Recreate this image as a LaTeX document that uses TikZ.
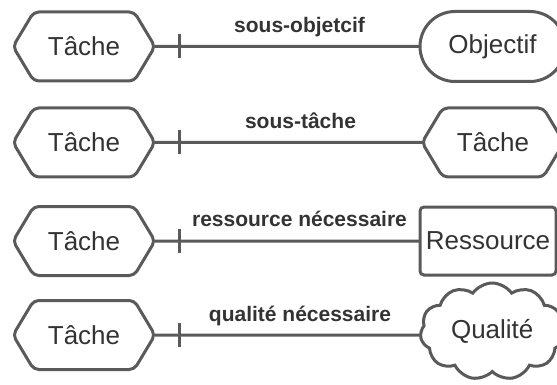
\documentclass[tikz,border=0pt]{standalone}
\usepackage{fontspec}
\setmainfont{Liberation Sans}
\usetikzlibrary{positioning, calc, shapes.symbols, shapes.misc}
\definecolor{trait}{HTML}{5A5A5A}
\definecolor{texte}{HTML}{333333}
\tikzset{
    forme/.style={draw=trait, line width=1.5pt, fill=white, text=texte, inner sep=0pt, outer sep=0pt,
      font=\fontsize{13}{15}\selectfont},
    tache/.style={forme, signal, signal to=east and west, signal pointer angle=118,
      minimum width=71pt, minimum height=34.5pt, rounded corners=2.5pt},
    objectif/.style={forme, rounded rectangle, minimum width=72.5pt, minimum height=35pt},
    ressource/.style={forme, rectangle, rounded corners=2pt, minimum width=68pt, minimum height=34pt},
    qualite/.style={forme, cloud, cloud puffs=11, cloud puff arc=110, aspect=1.5,
      minimum width=72pt, minimum height=48.5pt},
    lien/.style={draw=trait, line width=1.5pt},
    etiq/.style={text=texte, anchor=base, inner sep=0pt, font=\bfseries\fontsize{10.5}{12}\selectfont},
}

\begin{document}
\begin{tikzpicture}[x=0.5pt, y=-0.5pt]
    \useasboundingbox (0,0) rectangle (557,385);
    \clip (0,0) rectangle (557,385);

    \node[tache] (t1) at (84,46.5) {Tâche};
    \node[objectif, right=132.5pt of t1] (o1) {Objectif};
    \coordinate[right=12pt of t1.east] (k1);
    \draw (t1) edge[lien] (o1);
    \draw[lien] ([yshift=6pt]k1) -- ([yshift=-6pt]k1);
    \node[etiq] (e1) at ($(k1)!0.5!(o1.west)+(0,7pt)$) {sous-objetcif};

    \node[tache, below=13.5pt of t1] (t2) {Tâche};
    \node[tache, right=133.5pt of t2] (t2b) {Tâche};
    \coordinate[right=12pt of t2.east] (k2);
    \draw (t2) edge[lien] (t2b);
    \draw[lien] ([yshift=6pt]k2) -- ([yshift=-6pt]k2);
    \node[etiq] (e2) at ($(k2)!0.5!(t2b.west)+(0,7pt)$) {sous-tâche};

    \node[tache, below=14.75pt of t2] (t3) {Tâche};
    \node[ressource, right=132.5pt of t3] (r3) {Ressource};
    \coordinate[right=12pt of t3.east] (k3);
    \draw (t3) edge[lien] (r3);
    \draw[lien] ([yshift=6pt]k3) -- ([yshift=-6pt]k3);
    \node[etiq] (e3) at ($(k3)!0.5!(r3.west)+(0,7pt)$) {ressource nécessaire};

    \node[tache, below=12.5pt of t3] (t4) {Tâche};
    \node[qualite, right=133pt of t4, yshift=1.75pt] (q4) {Qualité};
    \coordinate[right=12pt of t4.east] (k4);
    \coordinate (q4w) at (t4 -| q4.west);
    \draw[lien] (t4) -- (q4w);
    \draw[lien] ([yshift=6pt]k4) -- ([yshift=-6pt]k4);
    \node[etiq] (e4) at ($(k4)!0.5!(q4w)+(0,7pt)$) {qualité nécessaire};
\end{tikzpicture}
\end{document}
